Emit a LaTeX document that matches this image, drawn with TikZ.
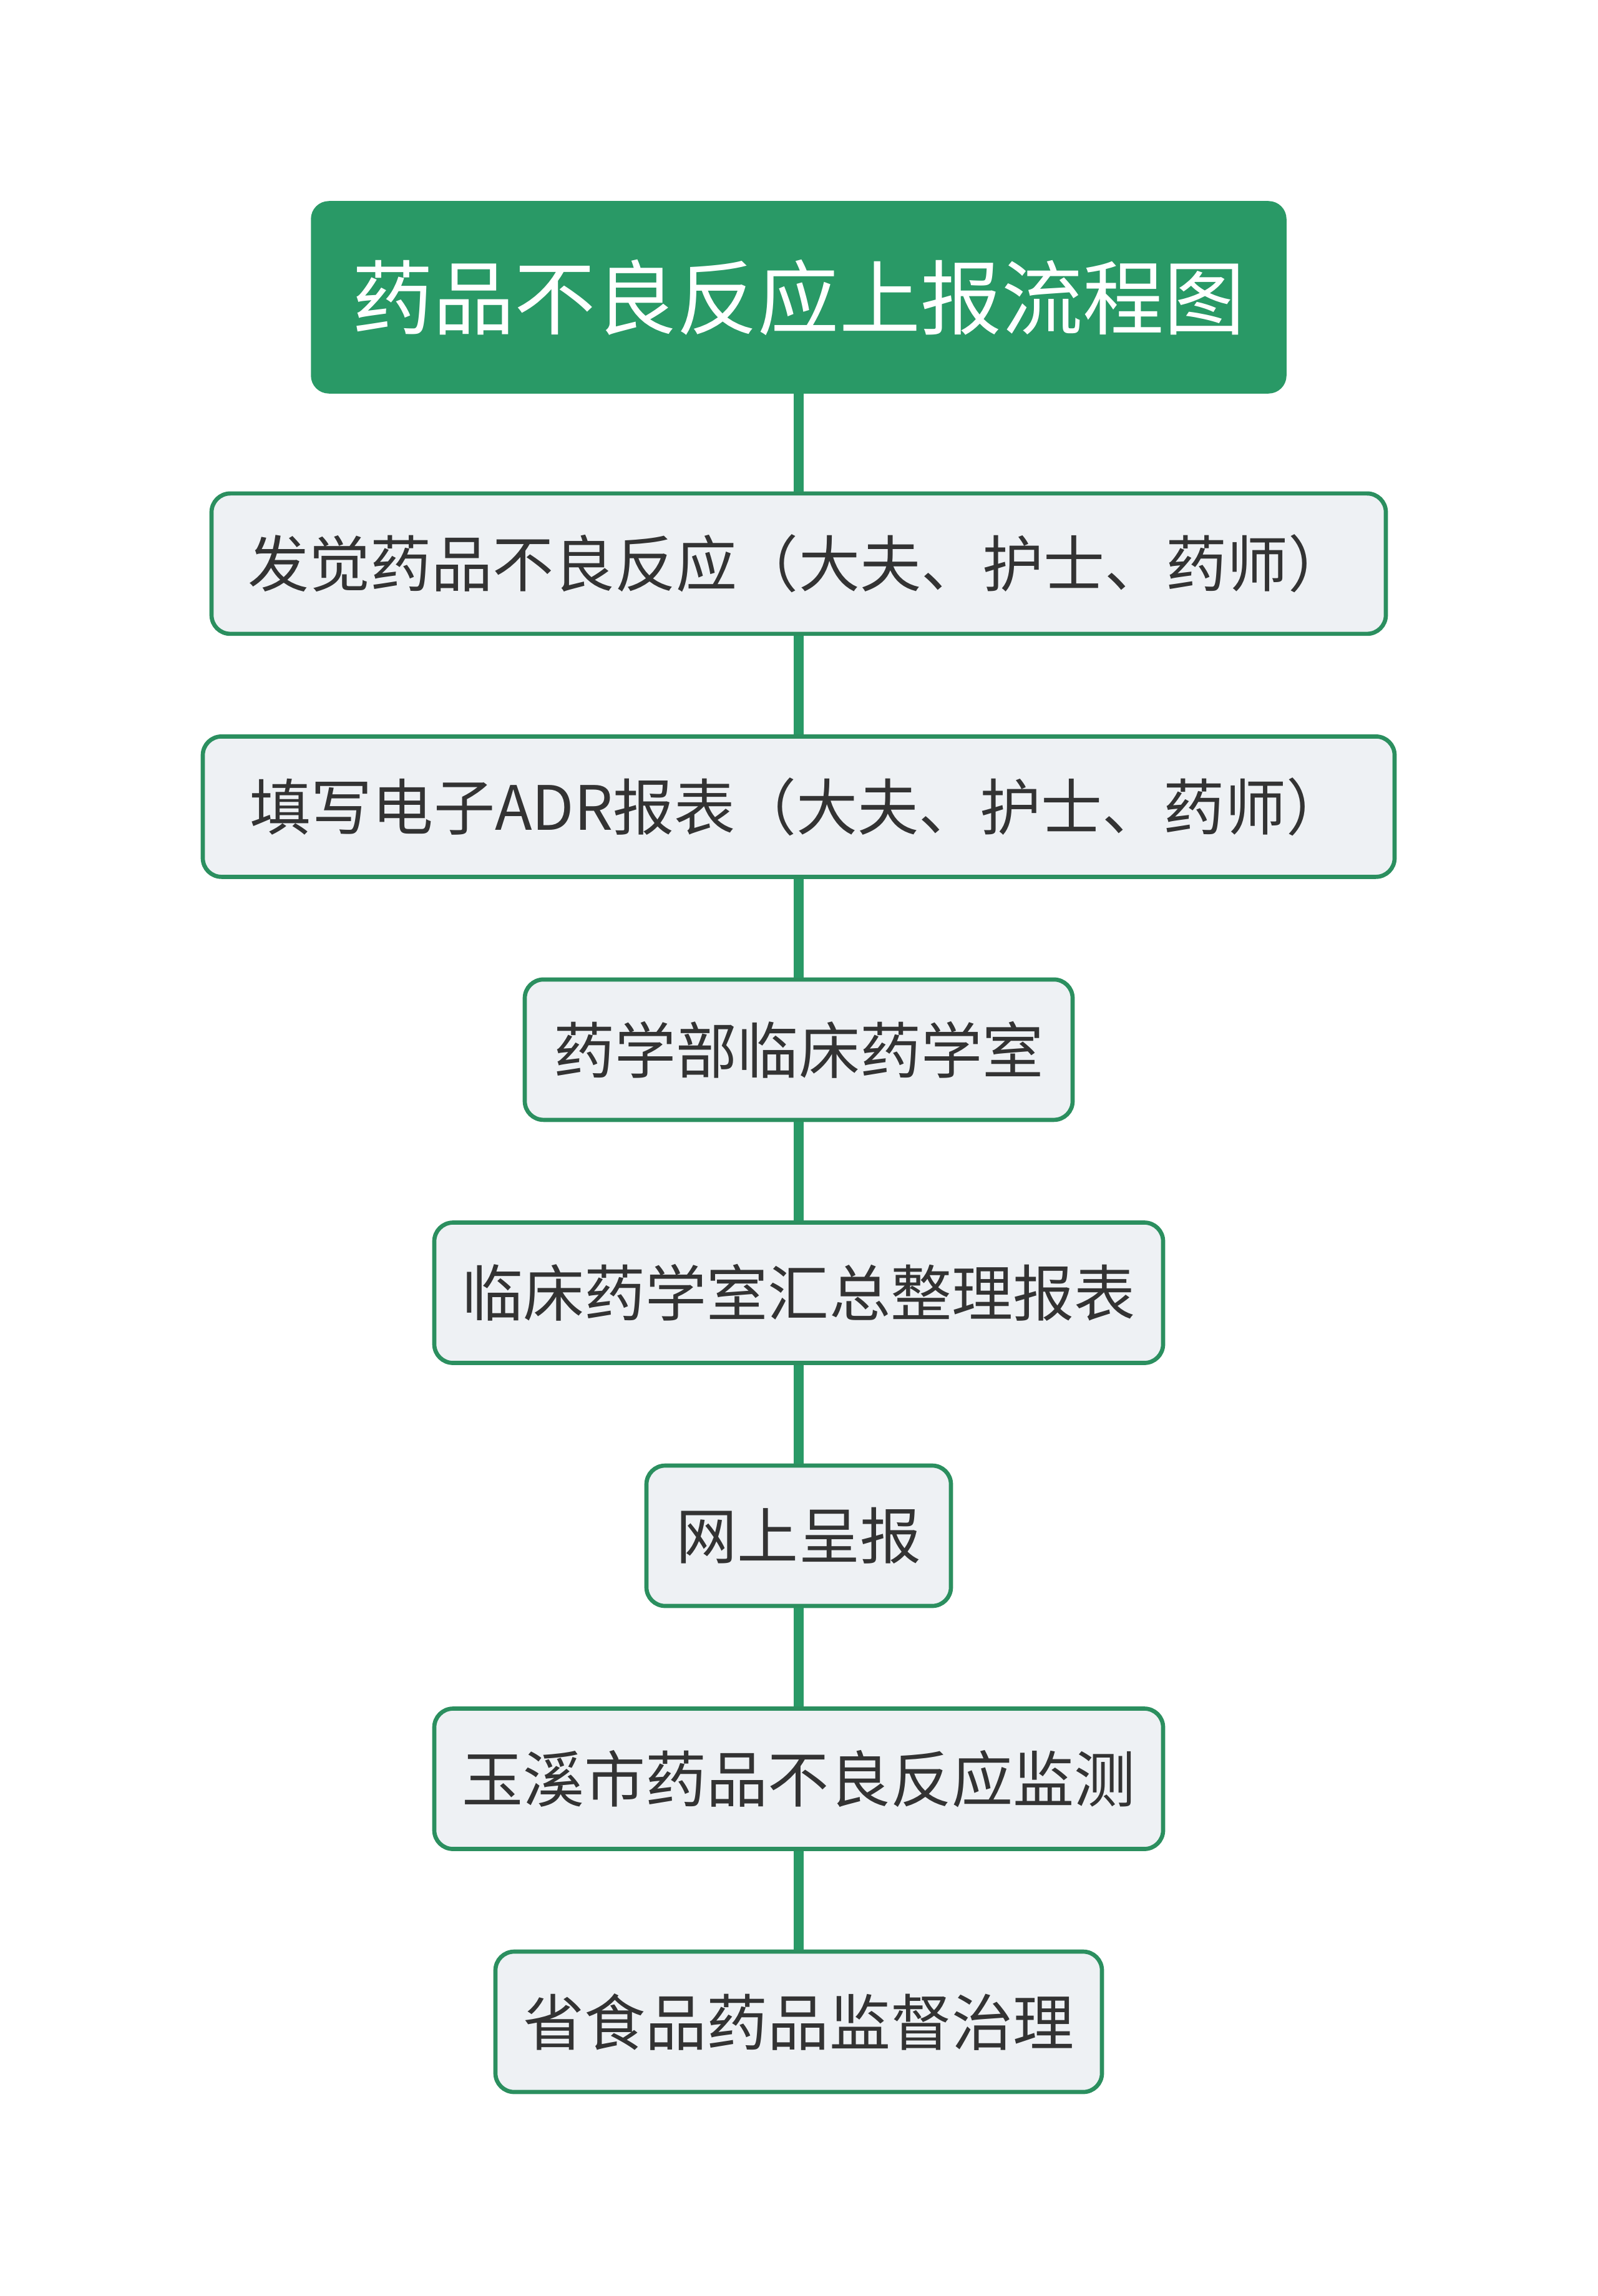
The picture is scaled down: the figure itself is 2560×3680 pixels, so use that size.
\documentclass[tikz,border=0pt]{standalone}
\usepackage{fontspec}
\newfontfamily\cjk{Noto Sans CJK SC}
\definecolor{tgreen}{HTML}{299966}
\definecolor{bgreen}{HTML}{2B8F5F}
\definecolor{boxfill}{HTML}{EEF1F4}
\definecolor{txt}{HTML}{333333}
\begin{document}
\begin{tikzpicture}[x=0.1mm,y=-0.1mm,
  titlebox/.style={rounded corners=2.7mm, fill=tgreen, draw=tgreen, line width=1pt, text=white,
    font=\cjk\fontsize{37pt}{40pt}\selectfont, minimum width=156mm, minimum height=30.5mm, inner sep=0pt},
  stepbox/.style={rounded corners=3mm, fill=boxfill, draw=bgreen, line width=1.9pt, text=txt,
    font=\cjk\fontsize{27.9pt}{30pt}\selectfont, minimum height=22.5mm, inner sep=0pt},
  link/.style={draw=tgreen, line width=4.4pt}]
\useasboundingbox (0,0) rectangle (2560,3680);
\fill[white] (0,0) rectangle (2560,3680);
\node[titlebox] (t) at (1280,476.5) {药品不良反应上报流程图};
\node[stepbox, minimum width=188.2mm] (b1) at (1280,903.4) {发觉药品不良反应（大夫、护士、药师）};
\node[stepbox, minimum width=191mm] (b2) at (1280,1292.9) {填写电子ADR报表（大夫、护士、药师）};
\node[stepbox, minimum width=87.8mm] (b3) at (1280,1682.4) {药学部临床药学室};
\node[stepbox, minimum width=116.8mm] (b4) at (1280,2072) {临床药学室汇总整理报表};
\node[stepbox, minimum width=48.8mm] (b5) at (1280,2461.5) {网上呈报};
\node[stepbox, minimum width=116.8mm] (b6) at (1280,2851) {玉溪市药品不良反应监测};
\node[stepbox, minimum width=97.2mm] (b7) at (1280,3240.5) {省食品药品监督治理};
\draw[link] (t.south) -- (b1.north);
\draw[link] (b1.south) -- (b2.north);
\draw[link] (b2.south) -- (b3.north);
\draw[link] (b3.south) -- (b4.north);
\draw[link] (b4.south) -- (b5.north);
\draw[link] (b5.south) -- (b6.north);
\draw[link] (b6.south) -- (b7.north);
\end{tikzpicture}
\end{document}
